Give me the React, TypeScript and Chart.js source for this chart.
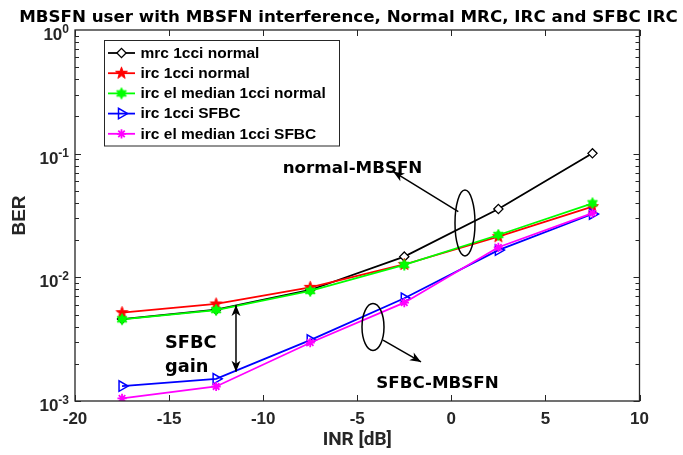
import React, { useEffect, useRef } from "react";
import { Chart, registerables } from "chart.js";
import { drawPoint } from "chart.js/helpers";

Chart.register(...registerables);

// ---------- data ----------
const inrDb = [-17.5, -12.5, -7.5, -2.5, 2.5, 7.5];
const mrc1cciNormal = [0.0046, 0.00548, 0.0079, 0.0147, 0.0357, 0.1006];
const irc1cciNormal = [0.00518, 0.00609, 0.0083, 0.0127, 0.0213, 0.0373];
const ircElMedian1cciNormal = [0.00458, 0.00544, 0.00776, 0.0126, 0.022, 0.0397];
const irc1cciSfbc = [0.00132, 0.00151, 0.00311, 0.00677, 0.0166, 0.0325];
const ircElMedian1cciSfbc = [0.00105, 0.00131, 0.00296, 0.00624, 0.0175, 0.033];

const seriesLabels = [
  "mrc 1cci normal",
  "irc 1cci normal",
  "irc el median 1cci normal",
  "irc 1cci SFBC",
  "irc el median 1cci SFBC",
];
const xTickValues = [-20, -15, -10, -5, 0, 5, 10];
const yTickValues = [0.001, 0.01, 0.1, 1];
const yTickExponents = ["-3", "-2", "-1", "0"];
const titleText = "MBSFN user with MBSFN interference, Normal MRC, IRC and SFBC IRC";
const xAxisLabel = "INR [dB]";
const yAxisLabel = "BER";

// annotation anchors in data coordinates
const normalEllipse = { x: 0.726, y: 0.0275 };
const normalArrow = { from: { x: 0.37, y: 0.034 }, to: { x: -3.085, y: 0.0715 } };
const normalText = { text: "normal-MBSFN", x: -5.253, y: 0.0694 };
const sfbcEllipse = { x: -4.163, y: 0.00397 };
const sfbcArrow = { from: { x: -3.632, y: 0.00311 }, to: { x: -1.612, y: 0.00207 } };
const sfbcText = { text: "SFBC-MBSFN", x: -0.735, y: 0.001274 };
const gainText1 = { text: "SFBC", x: -15.217, y: 0.002668 };
const gainText2 = { text: "gain", x: -15.217, y: 0.001726 };
const gainArrow = { x: -11.444, top: 0.005975, bottom: 0.001726 };

const AXIS_COLOR = "#262626";
const ANN_FONT = 'bold 16.7px "DejaVu Sans"';

function makeStar(points: number, outer: number, inner: number, color: string) {
  const size = Math.ceil(outer * 2 + 4);
  const c = document.createElement("canvas");
  c.width = size;
  c.height = size;
  const g = c.getContext("2d")!;
  g.translate(size / 2, size / 2);
  g.beginPath();
  for (let i = 0; i < points * 2; i++) {
    const r = i % 2 ? inner : outer;
    const a = -Math.PI / 2 + (i * Math.PI) / points;
    const px = Math.cos(a) * r;
    const py = Math.sin(a) * r;
    if (i === 0) g.moveTo(px, py);
    else g.lineTo(px, py);
  }
  g.closePath();
  g.fillStyle = color;
  g.fill();
  g.strokeStyle = color;
  g.lineWidth = 1;
  g.stroke();
  return c;
}

function drawArrowHead(ctx: CanvasRenderingContext2D, x1: number, y1: number, x2: number, y2: number) {
  const ang = Math.atan2(y2 - y1, x2 - x1);
  const len = 11;
  const half = 4.5;
  const back = 8;
  ctx.save();
  ctx.translate(x2, y2);
  ctx.rotate(ang);
  ctx.beginPath();
  ctx.moveTo(0, 0);
  ctx.lineTo(-len, -half);
  ctx.lineTo(-back, 0);
  ctx.lineTo(-len, half);
  ctx.closePath();
  ctx.fill();
  ctx.restore();
}

function drawArrow(ctx: CanvasRenderingContext2D, x1: number, y1: number, x2: number, y2: number, both = false) {
  ctx.beginPath();
  ctx.moveTo(x1, y1);
  ctx.lineTo(x2, y2);
  ctx.stroke();
  drawArrowHead(ctx, x1, y1, x2, y2);
  if (both) drawArrowHead(ctx, x2, y2, x1, y1);
}

const framePlugin = {
  id: "matlabFrame",
  afterDatasetsDraw(chart: any) {
    const { ctx, chartArea: a, scales } = chart;
    const xs = scales.x;
    const ys = scales.y;
    ctx.save();
    // box
    ctx.strokeStyle = AXIS_COLOR;
    ctx.lineWidth = 1.3;
    ctx.strokeRect(a.left, a.top, a.right - a.left, a.bottom - a.top);
    // x ticks inward
    ctx.lineWidth = 1;
    ctx.beginPath();
    for (const v of xTickValues) {
      const px = Math.round(xs.getPixelForValue(v)) + 0.5;
      ctx.moveTo(px, a.bottom);
      ctx.lineTo(px, a.bottom - 6);
      ctx.moveTo(px, a.top);
      ctx.lineTo(px, a.top + 6);
    }
    // y ticks (major + minor) inward
    for (let e = -3; e < 0; e++) {
      for (let m = 1; m <= 9; m++) {
        const v = m * Math.pow(10, e);
        const py = Math.round(ys.getPixelForValue(v)) + 0.5;
        const len = m === 1 ? 6 : 4;
        ctx.moveTo(a.left, py);
        ctx.lineTo(a.left + len, py);
        ctx.moveTo(a.right, py);
        ctx.lineTo(a.right - len, py);
      }
    }
    ctx.stroke();

    // y tick labels with superscript exponents
    ctx.fillStyle = AXIS_COLOR;
    ctx.textBaseline = "alphabetic";
    yTickValues.forEach((v, i) => {
      const py = ys.getPixelForValue(v);
      const exp = yTickExponents[i];
      ctx.font = 'bold 12px "Liberation Sans"';
      const ew = ctx.measureText(exp).width;
      const right = a.left - 6;
      ctx.textAlign = "left";
      ctx.fillText(exp, right - ew, py + 3);
      ctx.font = 'bold 17px "Liberation Sans"';
      ctx.textAlign = "right";
      ctx.fillText("10", right - ew, py + 10);
    });

    // annotations
    ctx.strokeStyle = "#000";
    ctx.fillStyle = "#000";
    ctx.lineWidth = 1.5;
    const P = (p: { x: number; y: number }) => [xs.getPixelForValue(p.x), ys.getPixelForValue(p.y)];
    const [ecx, ecy] = P(normalEllipse);
    ctx.beginPath();
    ctx.ellipse(ecx, ecy, 10, 33, 0, 0, Math.PI * 2);
    ctx.stroke();
    const [na1, na2] = P(normalArrow.from);
    const [nb1, nb2] = P(normalArrow.to);
    drawArrow(ctx, na1, na2, nb1, nb2);
    const [scx, scy] = P(sfbcEllipse);
    ctx.beginPath();
    ctx.ellipse(scx, scy, 11, 23.5, 0, 0, Math.PI * 2);
    ctx.stroke();
    const [sa1, sa2] = P(sfbcArrow.from);
    const [sb1, sb2] = P(sfbcArrow.to);
    drawArrow(ctx, sa1, sa2, sb1, sb2);
    const gx = xs.getPixelForValue(gainArrow.x);
    drawArrow(ctx, gx, ys.getPixelForValue(gainArrow.top), gx, ys.getPixelForValue(gainArrow.bottom), true);

    ctx.font = ANN_FONT;
    ctx.textBaseline = "alphabetic";
    ctx.textAlign = "center";
    for (const t of [normalText, sfbcText]) {
      const [tx, ty] = P(t);
      ctx.fillText(t.text, tx, ty);
    }
    ctx.font = 'bold 17.8px "DejaVu Sans"';
    ctx.textAlign = "left";
    for (const t of [gainText1, gainText2]) {
      const [tx, ty] = P(t);
      ctx.fillText(t.text, tx, ty);
    }

    // legend box
    const lx = a.left + 29;
    const ly = a.top + 9.5;
    const lw = 235;
    const lh = 105.5;
    ctx.fillStyle = "#fff";
    ctx.fillRect(lx, ly, lw, lh);
    ctx.strokeStyle = AXIS_COLOR;
    ctx.lineWidth = 1;
    ctx.strokeRect(Math.round(lx) + 0.5, Math.round(ly) + 0.5, lw, lh);
    chart.data.datasets.forEach((ds: any, i: number) => {
      const ry = ly + 13.5 + i * 20.2;
      ctx.strokeStyle = ds.borderColor;
      ctx.fillStyle = ds.pointBackgroundColor;
      ctx.lineWidth = ds.borderWidth;
      ctx.beginPath();
      ctx.moveTo(lx + 4, ry);
      ctx.lineTo(lx + 31, ry);
      ctx.stroke();
      ctx.lineWidth = ds.pointBorderWidth;
      drawPoint(ctx, {
        pointStyle: ds.pointStyle,
        rotation: ds.pointRotation || 0,
        radius: ds.pointRadius,
        borderWidth: ds.pointBorderWidth,
      } as any, lx + 17.5, ry);
      ctx.fillStyle = "#000";
      ctx.font = 'bold 15.5px "Liberation Sans"';
      ctx.textAlign = "left";
      ctx.textBaseline = "middle";
      ctx.fillText(seriesLabels[i], lx + 36.5, ry + 0.5);
    });

    // title
    ctx.fillStyle = "#000";
    ctx.font = ANN_FONT;
    ctx.textAlign = "center";
    ctx.textBaseline = "alphabetic";
    ctx.fillText(titleText, 348.5, 21.7);
    ctx.restore();
  },
};

export default function App() {
  const ref = useRef<HTMLCanvasElement | null>(null);
  useEffect(() => {
    if (!ref.current) return;
    const pentagram = makeStar(5, 6.2, 2.5, "#ff0000");
    const hexagram = makeStar(6, 5.6, 3.1, "#00ff00");
    const common = { borderWidth: 1.8, pointBorderWidth: 1.5, tension: 0 };
    const chart = new Chart(ref.current, {
      type: "line",
      data: {
        labels: inrDb,
        datasets: [
          {
            ...common,
            label: seriesLabels[0],
            data: inrDb.map((x, i) => ({ x, y: mrc1cciNormal[i] })),
            borderColor: "#000000",
            pointBorderColor: "#000000",
            pointBackgroundColor: "#ffffff",
            pointStyle: "rectRot",
            pointRadius: 4.6,
            pointBorderWidth: 1.3,
            order: 5,
          },
          {
            ...common,
            label: seriesLabels[1],
            data: inrDb.map((x, i) => ({ x, y: irc1cciNormal[i] })),
            borderColor: "#ff0000",
            pointBorderColor: "#ff0000",
            pointBackgroundColor: "#ff0000",
            pointStyle: pentagram,
            pointRadius: 6,
            order: 4,
          },
          {
            ...common,
            label: seriesLabels[2],
            data: inrDb.map((x, i) => ({ x, y: ircElMedian1cciNormal[i] })),
            borderColor: "#00ff00",
            pointBorderColor: "#00ff00",
            pointBackgroundColor: "#00ff00",
            pointStyle: hexagram,
            pointRadius: 6,
            order: 3,
          },
          {
            ...common,
            label: seriesLabels[3],
            data: inrDb.map((x, i) => ({ x, y: irc1cciSfbc[i] })),
            borderColor: "#0000ff",
            pointBorderColor: "#0000ff",
            pointBackgroundColor: "rgba(0,0,0,0)",
            pointStyle: "triangle",
            pointRotation: 90,
            pointRadius: 6,
            order: 2,
          },
          {
            ...common,
            label: seriesLabels[4],
            data: inrDb.map((x, i) => ({ x, y: ircElMedian1cciSfbc[i] })),
            borderColor: "#ff00ff",
            pointBorderColor: "#ff00ff",
            pointBackgroundColor: "#ff00ff",
            pointStyle: "star",
            pointRadius: 4.6,
            pointBorderWidth: 1.8,
            order: 1,
          },
        ],
      },
      options: {
        animation: false,
        responsive: true,
        maintainAspectRatio: false,
        layout: { padding: { top: 30, right: 43.5, bottom: 0, left: 0 } },
        plugins: { legend: { display: false }, tooltip: { enabled: false }, title: { display: false } },
        scales: {
          x: {
            type: "linear",
            min: -20,
            max: 10,
            grid: { display: false, drawTicks: false },
            border: { display: false },
            afterBuildTicks: (s: any) => {
              s.ticks = xTickValues.map((v) => ({ value: v }));
            },
            afterFit: (s: any) => {
              s.height = 54;
            },
            ticks: {
              padding: 8,
              autoSkip: false,
              maxRotation: 0,
              color: AXIS_COLOR,
              font: { family: "Liberation Sans", weight: "bold", size: 17 },
              callback: (v: any) => String(v),
            },
            title: {
              display: true,
              text: xAxisLabel,
              color: AXIS_COLOR,
              font: { family: "Roboto", weight: "bold", size: 19 },
              padding: { top: 0, bottom: 3 },
            },
          },
          y: {
            type: "logarithmic",
            min: 0.001,
            max: 1,
            grid: { display: false, drawTicks: false },
            border: { display: false },
            afterBuildTicks: (s: any) => {
              s.ticks = yTickValues.map((v) => ({ value: v }));
            },
            afterFit: (s: any) => {
              s.width = 75;
            },
            ticks: { display: false },
            title: {
              display: true,
              text: yAxisLabel,
              color: AXIS_COLOR,
              font: { family: "Liberation Sans", weight: "bold", size: 19 },
              padding: { top: 8, bottom: 0 },
            },
          },
        },
      } as any,
      plugins: [framePlugin],
    });
    return () => chart.destroy();
  }, []);
  return (
    <div style={{ position: "fixed", left: 0, top: 0, width: 683, height: 455, background: "#fff" }}>
      <canvas ref={ref} />
    </div>
  );
}
